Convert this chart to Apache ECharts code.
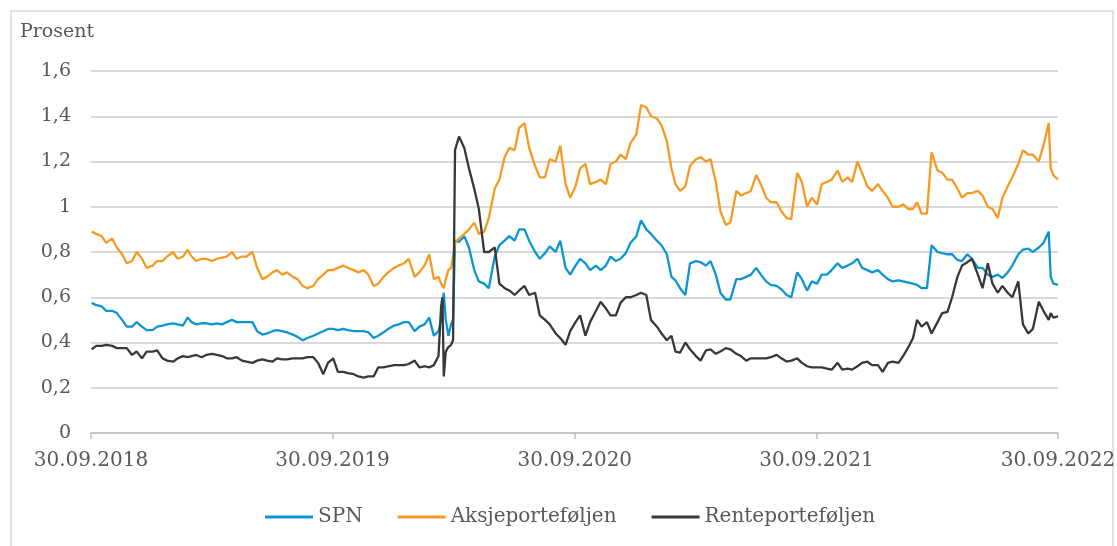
<!DOCTYPE html>
<html>
<head>
<meta charset="utf-8">
<title>Prosent</title>
<script src="https://cdn.jsdelivr.net/npm/echarts@6/dist/echarts.min.js"></script>
<style>
  html, body { margin: 0; padding: 0; background: #fff; }
  #chart { width: 1117px; height: 546px; }
</style>
</head>
<body>
<div id="chart"></div>
<script>
// observation dates (roughly weekly, denser around March 2020)
const dates = [
  '2018-10-01', '2018-10-08', '2018-10-16', '2018-10-23',
  '2018-11-01', '2018-11-08', '2018-11-16', '2018-11-23',
  '2018-12-01', '2018-12-08', '2018-12-16', '2018-12-23',
  '2019-01-01', '2019-01-08', '2019-01-16', '2019-01-23',
  '2019-02-01', '2019-02-08', '2019-02-16', '2019-02-23',
  '2019-03-01', '2019-03-08', '2019-03-16', '2019-03-23',
  '2019-04-01', '2019-04-08', '2019-04-16', '2019-04-23',
  '2019-05-01', '2019-05-08', '2019-05-16', '2019-05-23',
  '2019-06-01', '2019-06-08', '2019-06-16', '2019-06-23',
  '2019-07-01', '2019-07-08', '2019-07-16', '2019-07-23',
  '2019-08-01', '2019-08-08', '2019-08-16', '2019-08-23',
  '2019-09-01', '2019-09-08', '2019-09-16', '2019-09-23',
  '2019-10-01', '2019-10-08', '2019-10-16', '2019-10-23',
  '2019-11-01', '2019-11-08', '2019-11-16', '2019-11-23',
  '2019-12-01', '2019-12-08', '2019-12-16', '2019-12-23',
  '2020-01-01', '2020-01-08', '2020-01-16', '2020-01-23',
  '2020-02-01', '2020-02-08', '2020-02-16', '2020-02-23',
  '2020-03-01', '2020-03-08', '2020-03-12', '2020-03-14', '2020-03-16',
  '2020-03-19', '2020-03-23', '2020-03-27', '2020-03-30',
  '2020-04-02', '2020-04-08', '2020-04-16', '2020-04-23',
  '2020-05-01', '2020-05-08', '2020-05-16', '2020-05-23',
  '2020-06-01', '2020-06-08', '2020-06-16', '2020-06-23',
  '2020-07-01', '2020-07-08', '2020-07-16', '2020-07-23',
  '2020-08-01', '2020-08-08', '2020-08-16', '2020-08-23',
  '2020-09-01', '2020-09-08', '2020-09-16', '2020-09-23',
  '2020-10-01', '2020-10-08', '2020-10-16', '2020-10-23',
  '2020-11-01', '2020-11-08', '2020-11-16', '2020-11-23',
  '2020-12-01', '2020-12-08', '2020-12-16', '2020-12-23',
  '2021-01-01', '2021-01-08', '2021-01-16', '2021-01-23',
  '2021-02-01', '2021-02-08', '2021-02-16', '2021-02-23',
  '2021-03-01', '2021-03-08', '2021-03-16', '2021-03-23',
  '2021-04-01', '2021-04-08', '2021-04-16', '2021-04-23',
  '2021-05-01', '2021-05-08', '2021-05-16', '2021-05-23',
  '2021-06-01', '2021-06-08', '2021-06-16', '2021-06-23',
  '2021-07-01', '2021-07-08', '2021-07-16', '2021-07-23',
  '2021-08-01', '2021-08-08', '2021-08-16', '2021-08-23',
  '2021-09-01', '2021-09-08', '2021-09-16', '2021-09-23',
  '2021-10-01', '2021-10-08', '2021-10-16', '2021-10-23',
  '2021-11-01', '2021-11-08', '2021-11-16', '2021-11-23',
  '2021-12-01', '2021-12-08', '2021-12-16', '2021-12-23',
  '2022-01-01', '2022-01-08', '2022-01-16', '2022-01-23',
  '2022-02-01', '2022-02-08', '2022-02-16', '2022-02-23',
  '2022-03-01', '2022-03-08', '2022-03-16', '2022-03-23',
  '2022-04-01', '2022-04-08', '2022-04-16', '2022-04-23',
  '2022-05-01', '2022-05-08', '2022-05-16', '2022-05-23',
  '2022-06-01', '2022-06-08', '2022-06-16', '2022-06-23',
  '2022-07-01', '2022-07-08', '2022-07-16', '2022-07-23',
  '2022-08-01', '2022-08-08', '2022-08-16', '2022-08-23',
  '2022-09-01', '2022-09-08', '2022-09-16', '2022-09-19', '2022-09-23', '2022-09-30'
]

const spn = [
  0.575, 0.565, 0.56, 0.54, 0.54, 0.53, 0.50, 0.47, 0.47, 0.49, 0.47, 0.455,
  0.455, 0.47, 0.475, 0.48, 0.485, 0.48, 0.475, 0.51, 0.49, 0.48, 0.485, 0.485,
  0.48, 0.485, 0.48, 0.49, 0.50, 0.49, 0.49, 0.49, 0.49, 0.45, 0.435, 0.44,
  0.45, 0.455, 0.45, 0.445, 0.435, 0.425, 0.41, 0.42, 0.43, 0.44, 0.45, 0.46,
  // 2019/20
  0.46, 0.455, 0.46, 0.455, 0.45, 0.45, 0.45, 0.445, 0.42, 0.43, 0.445, 0.46,
  0.475, 0.48, 0.49, 0.49, 0.45, 0.47, 0.48, 0.51,
  0.43, 0.45, 0.50, 0.56, 0.62, 0.50, 0.43, 0.48, 0.50,
  0.85, 0.845, 0.87, 0.82, 0.72, 0.67, 0.66, 0.64, 0.78, 0.83, 0.85, 0.87,
  0.85, 0.90, 0.90, 0.85, 0.80, 0.77, 0.795, 0.825, 0.80, 0.85, 0.73, 0.70,
  // 2020/21
  0.74, 0.77, 0.75, 0.72, 0.74, 0.72, 0.74, 0.78, 0.76, 0.77, 0.795, 0.84,
  0.87, 0.94, 0.90, 0.88, 0.85, 0.83, 0.79, 0.69, 0.675, 0.64, 0.61, 0.75,
  0.76, 0.755, 0.74, 0.76, 0.70, 0.62, 0.59, 0.59, 0.68, 0.68, 0.69, 0.70,
  0.73, 0.70, 0.67, 0.655, 0.65, 0.635, 0.61, 0.60, 0.71, 0.68, 0.63, 0.67,
  // 2021/22
  0.66, 0.70, 0.70, 0.72, 0.75, 0.73, 0.74, 0.75, 0.77, 0.73, 0.72, 0.71,
  0.72, 0.70, 0.68, 0.67, 0.675, 0.67, 0.665, 0.66, 0.655, 0.64, 0.64, 0.83,
  0.80, 0.795, 0.79, 0.79, 0.765, 0.76, 0.79, 0.77, 0.73, 0.73, 0.70, 0.69,
  0.70, 0.685, 0.71, 0.74, 0.79, 0.81, 0.815, 0.80, 0.82, 0.84, 0.89, 0.69, 0.66, 0.655
]

const aksje = [
  0.89, 0.88, 0.87, 0.84, 0.86, 0.82, 0.79, 0.75, 0.76, 0.80, 0.77, 0.73,
  0.74, 0.76, 0.76, 0.78, 0.80, 0.77, 0.78, 0.81, 0.78, 0.76, 0.77, 0.77,
  0.76, 0.77, 0.775, 0.78, 0.80, 0.77, 0.78, 0.78, 0.80, 0.73, 0.68, 0.69,
  0.71, 0.72, 0.70, 0.71, 0.69, 0.68, 0.65, 0.64, 0.65, 0.68, 0.70, 0.72,
  // 2019/20
  0.72, 0.73, 0.74, 0.73, 0.72, 0.71, 0.72, 0.70, 0.65, 0.66, 0.69, 0.71,
  0.73, 0.74, 0.75, 0.77, 0.69, 0.71, 0.74, 0.79,
  0.68, 0.69, 0.66, 0.65, 0.64, 0.68, 0.72, 0.73, 0.78,
  0.84, 0.86, 0.88, 0.90, 0.93, 0.88, 0.89, 0.95, 1.08, 1.12, 1.22, 1.26,
  1.25, 1.35, 1.37, 1.26, 1.18, 1.13, 1.13, 1.21, 1.20, 1.27, 1.10, 1.04,
  // 2020/21
  1.09, 1.17, 1.19, 1.10, 1.11, 1.12, 1.10, 1.19, 1.20, 1.23, 1.21, 1.28,
  1.32, 1.45, 1.44, 1.40, 1.39, 1.36, 1.29, 1.17, 1.10, 1.07, 1.09, 1.18,
  1.21, 1.22, 1.20, 1.21, 1.11, 0.98, 0.92, 0.93, 1.07, 1.05, 1.06, 1.07,
  1.14, 1.10, 1.04, 1.02, 1.02, 0.98, 0.95, 0.945, 1.15, 1.11, 1.00, 1.04,
  // 2021/22
  1.01, 1.10, 1.11, 1.12, 1.16, 1.11, 1.13, 1.11, 1.20, 1.15, 1.09, 1.07,
  1.10, 1.07, 1.04, 1.00, 1.00, 1.01, 0.99, 0.99, 1.02, 0.97, 0.97, 1.24,
  1.16, 1.15, 1.12, 1.12, 1.08, 1.04, 1.06, 1.06, 1.07, 1.05, 1.00, 0.99,
  0.95, 1.04, 1.09, 1.13, 1.19, 1.25, 1.23, 1.23, 1.20, 1.27, 1.37, 1.17, 1.14, 1.12
]

const rente = [
  0.37, 0.385, 0.385, 0.39, 0.385, 0.375, 0.375, 0.375, 0.345, 0.36, 0.33, 0.36,
  0.36, 0.365, 0.33, 0.32, 0.315, 0.33, 0.34, 0.335, 0.34, 0.345, 0.335, 0.345,
  0.35, 0.345, 0.34, 0.33, 0.33, 0.335, 0.32, 0.315, 0.31, 0.32, 0.325, 0.32,
  0.315, 0.33, 0.325, 0.325, 0.33, 0.33, 0.33, 0.335, 0.335, 0.31, 0.26, 0.31,
  // 2019/20
  0.33, 0.27, 0.27, 0.265, 0.26, 0.25, 0.245, 0.25, 0.25, 0.29, 0.29, 0.295,
  0.30, 0.30, 0.30, 0.305, 0.32, 0.29, 0.295, 0.29,
  0.30, 0.34, 0.56, 0.60, 0.25, 0.36, 0.38, 0.39, 0.41,
  1.25, 1.31, 1.26, 1.17, 1.08, 0.99, 0.80, 0.80, 0.82, 0.66, 0.64, 0.63,
  0.61, 0.63, 0.65, 0.61, 0.62, 0.52, 0.50, 0.48, 0.44, 0.42, 0.39, 0.45,
  // 2020/21
  0.49, 0.52, 0.43, 0.49, 0.54, 0.58, 0.55, 0.52, 0.52, 0.575, 0.60, 0.60,
  0.61, 0.62, 0.61, 0.50, 0.47, 0.44, 0.41, 0.43, 0.36, 0.355, 0.40, 0.37,
  0.34, 0.32, 0.365, 0.37, 0.35, 0.36, 0.375, 0.37, 0.35, 0.34, 0.32, 0.33,
  0.33, 0.33, 0.33, 0.335, 0.345, 0.33, 0.316, 0.32, 0.33, 0.31, 0.295, 0.29,
  // 2021/22
  0.29, 0.29, 0.285, 0.28, 0.31, 0.28, 0.285, 0.28, 0.295, 0.31, 0.315, 0.30,
  0.30, 0.27, 0.31, 0.315, 0.31, 0.34, 0.38, 0.42, 0.50, 0.47, 0.49, 0.44,
  0.49, 0.53, 0.535, 0.60, 0.69, 0.74, 0.755, 0.77, 0.70, 0.64, 0.75, 0.66,
  0.62, 0.65, 0.62, 0.60, 0.67, 0.48, 0.44, 0.46, 0.58, 0.54, 0.50, 0.53, 0.51, 0.515
]

const tickDates = ['2018-09-30', '2019-09-30', '2020-09-30', '2021-09-30', '2022-09-30']

const FONT = 'DejaVu Serif'
const TEXT = '#595959'

function toTime(s) {
  const p = s.split('-')
  return new Date(+p[0], +p[1] - 1, +p[2]).getTime()
}
function pad(n) {
  return (n < 10 ? '0' : '') + n
}
function pairs(values) {
  return dates.map(function (d, i) {
    return [toTime(d), values[i]]
  })
}

const ticks = tickDates.map(toTime)

const chart = echarts.init(document.getElementById('chart'))
const options = {
  animation: false,
  backgroundColor: '#fff',
  textStyle: { fontFamily: FONT },
  title: {
    text: 'Prosent',
    left: 20,
    top: 23,
    padding: 0,
    textStyle: { fontFamily: FONT, fontSize: 19, fontWeight: 'normal', color: TEXT }
  },
  graphic: [{
    type: 'rect',
    silent: true,
    shape: { x: 11, y: 11, width: 1102, height: 545 },
    style: { fill: 'none', stroke: '#d9d9d9', lineWidth: 1.5 }
  }],
  legend: {
    top: 507,
    left: 265,
    padding: 0,
    itemWidth: 48,
    itemHeight: 3,
    itemGap: 35,
    icon: 'rect',
    textStyle: { fontFamily: FONT, fontSize: 20, color: TEXT },
    data: ['SPN', 'Aksjeporteføljen', 'Renteporteføljen']
  },
  grid: {
    left: 91,
    right: 59,
    top: 71,
    bottom: 113,
    outerBoundsMode: 'none'
  },
  // dates as timestamps on a value axis, so the yearly ticks can sit on 30.09
  xAxis: {
    type: 'value',
    min: ticks[0],
    max: ticks[ticks.length - 1],
    axisLine: { lineStyle: { color: '#bfbfbf', width: 1.5 } },
    axisTick: { show: true, length: 6, customValues: ticks, lineStyle: { color: '#bfbfbf', width: 1.5 } },
    axisLabel: {
      customValues: ticks,
      margin: 18,
      fontFamily: FONT,
      fontSize: 20,
      color: TEXT,
      formatter: function (v) {
        const d = new Date(v)
        return pad(d.getDate()) + '.' + pad(d.getMonth() + 1) + '.' + d.getFullYear()
      }
    },
    splitLine: { show: false }
  },
  yAxis: {
    type: 'value',
    min: 0,
    max: 1.6,
    interval: 0.2,
    axisLine: { show: false },
    axisTick: { show: false },
    axisLabel: {
      margin: 20,
      fontFamily: FONT,
      fontSize: 19,
      color: TEXT,
      formatter: function (v) {
        return String(+v.toFixed(1)).replace('.', ',')
      }
    },
    splitLine: { lineStyle: { color: '#d9d9d9', width: 2 } }
  },
  series: [{
    name: 'SPN',
    type: 'line',
    data: pairs(spn),
    showSymbol: false,
    color: '#0b95d1',
    lineStyle: { width: 2.3 }
  }, {
    name: 'Aksjeporteføljen',
    type: 'line',
    data: pairs(aksje),
    showSymbol: false,
    color: '#f59a22',
    lineStyle: { width: 2.3 }
  }, {
    name: 'Renteporteføljen',
    type: 'line',
    data: pairs(rente),
    showSymbol: false,
    color: '#383838',
    lineStyle: { width: 2.3 }
  }]
}
chart.setOption(options)
</script>
</body>
</html>
